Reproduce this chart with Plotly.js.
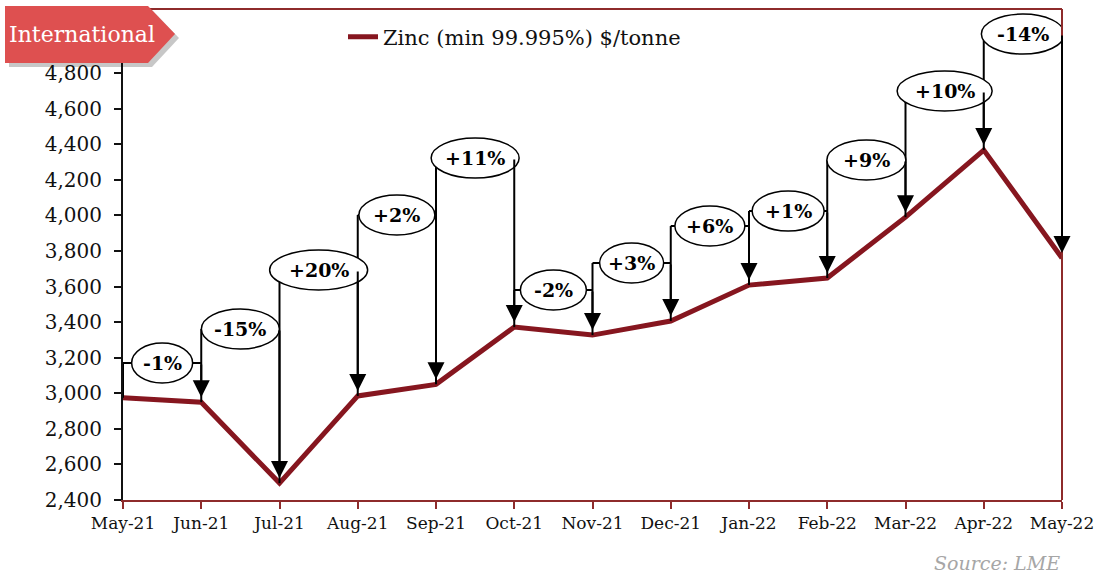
<!DOCTYPE html>
<html>
<head>
<meta charset="utf-8">
<script src="https://cdn.plot.ly/plotly-3.0.1.min.js"></script>
<style>html,body{margin:0;padding:0;background:#fff;}#chart{width:1096px;height:575px;}</style>
</head>
<body>
<div id="chart"></div>
<script>
// ---- data ----
const months = ['May-21','Jun-21','Jul-21','Aug-21','Sep-21','Oct-21','Nov-21','Dec-21','Jan-22','Feb-22','Mar-22','Apr-22','May-22'];
const zinc = [2975, 2950, 2495, 2985, 3050, 3372, 3327, 3406, 3608, 3648, 3990, 4367, 3760];
const changeLabels = ['-1%','-15%','+20%','+2%','+11%','-2%','+3%','+6%','+1%','+9%','+10%','-14%'];
const yTicks = [2400,2600,2800,3000,3200,3400,3600,3800,4000,4200,4400,4600,4800];
const seriesName = 'Zinc (min 99.995%) $/tonne';

// ---- annotation layout (positions / sizes) ----
const labelLevels = [3170, 3361, 3693, 4002, 4322, 3580, 3732, 3940, 4024, 4311, 4699, 5019];
const ellipseW = [61, 78, 98, 76, 88, 66, 64, 70, 72, 79, 95, 83];
const ellipseH = 40;

const W = 1096, H = 575, L = 123, R = 34, T = 9, B = 75;
const px2x = px => (px - L) / (W - L - R);
const py2y = py => (H - B - py) / (H - T - B);

const RED = '#86161F';
const FRAME = '#8E2B2B';
const FONT = 'DejaVu Serif, Liberation Serif, serif';

const xIdx = months.map((m, i) => i);

const shapes = [];
const annotations = [];

// connector lines
changeLabels.forEach((lab, k) => {
  const i = k + 1;
  const ly = labelLevels[k];
  shapes.push({type:'line', xref:'x', yref:'y', x0:i-1, x1:i, y0:ly, y1:ly, line:{color:'#000', width:2}, layer:'above'});
  shapes.push({type:'line', xref:'x', yref:'y', x0:i-1, x1:i-1, y0:ly, y1:zinc[i-1], line:{color:'#000', width:2}, layer:'above'});
});
// ellipses
changeLabels.forEach((lab, k) => {
  const i = k + 1;
  const w = ellipseW[k];
  shapes.push({type:'circle', xref:'x', yref:'y', xsizemode:'pixel', ysizemode:'pixel',
    xanchor:i-0.5, yanchor:labelLevels[k], x0:-w/2, x1:w/2, y0:-ellipseH/2, y1:ellipseH/2,
    fillcolor:'#fff', line:{color:'#000', width:1.5}, layer:'above'});
});
// frame top & right
shapes.push({type:'line', xref:'paper', yref:'paper', x0:0, x1:1, y0:1, y1:1, line:{color:FRAME, width:2}});
shapes.push({type:'line', xref:'paper', yref:'paper', x0:1, x1:1, y0:0, y1:1, line:{color:FRAME, width:2}});

// badge shadow + badge
function badgePath(dx, dy) {
  const pts = [[5,6],[148,6],[175,34],[148,63],[5,63]].map(p => [px2x(p[0]+dx), py2y(p[1]+dy)]);
  return 'M' + pts.map(p => p[0].toFixed(5) + ',' + p[1].toFixed(5)).join(' L') + ' Z';
}
shapes.push({type:'path', xref:'paper', yref:'paper', path:badgePath(4,4), fillcolor:'rgba(0,0,0,0.22)', line:{width:0}, layer:'above'});
shapes.push({type:'path', xref:'paper', yref:'paper', path:badgePath(0,0), fillcolor:'#DE5050', line:{width:0}, layer:'above'});

// arrows
changeLabels.forEach((lab, k) => {
  const i = k + 1;
  annotations.push({x:i, y:zinc[i], xref:'x', yref:'y', ax:i, ay:labelLevels[k], axref:'x', ayref:'y',
    text:'', showarrow:true, arrowhead:2, arrowsize:1.7, arrowwidth:2, arrowcolor:'#000', standoff:5});
});
// label texts
changeLabels.forEach((lab, k) => {
  annotations.push({x:k+0.5, y:labelLevels[k], xref:'x', yref:'y', text:'<b>'+lab+'</b>', showarrow:false,
    font:{family:FONT, size:19, color:'#000'}, xanchor:'center', yanchor:'middle'});
});
annotations.push({x:px2x(82), y:py2y(35), xref:'paper', yref:'paper', text:'International', showarrow:false,
  font:{family:FONT, size:22, color:'#fff'}, xanchor:'center', yanchor:'middle'});
annotations.push({x:px2x(1062), y:py2y(563), xref:'paper', yref:'paper', text:'<i>Source: LME</i>', showarrow:false,
  font:{family:FONT, size:19, color:'#A6A6A6'}, xanchor:'right', yanchor:'middle'});

const trace = {x:xIdx, y:zinc, type:'scatter', mode:'lines', name:seriesName,
  line:{color:RED, width:5}};

const layout = {
  width:W, height:H,
  margin:{l:L, r:R, t:T, b:B},
  paper_bgcolor:'#fff', plot_bgcolor:'#fff',
  font:{family:FONT, color:'#111'},
  showlegend:true,
  legend:{x:px2x(343), y:py2y(37), xanchor:'left', yanchor:'middle', bgcolor:'rgba(0,0,0,0)',
    font:{family:FONT, size:21, color:'#111'}},
  xaxis:{range:[0,12], tickvals:xIdx, ticktext:months, showgrid:false, zeroline:false,
    showline:true, linecolor:FRAME, linewidth:2, ticks:'outside', ticklen:7, tickcolor:FRAME, tickwidth:2,
    tickfont:{family:FONT, size:17, color:'#111'}, fixedrange:true},
  yaxis:{range:[2400,5160], tickvals:yTicks, tickformat:',', showgrid:false, zeroline:false,
    showline:true, linecolor:'#111', linewidth:2, ticks:'outside', ticklen:7, tickcolor:'#111', tickwidth:2,
    tickfont:{family:FONT, size:20, color:'#111'}, ticklabelstandoff:8, fixedrange:true},
  shapes:shapes,
  annotations:annotations
};

Plotly.newPlot('chart', [trace], layout, {displayModeBar:false, staticPlot:true});
</script>
</body>
</html>
